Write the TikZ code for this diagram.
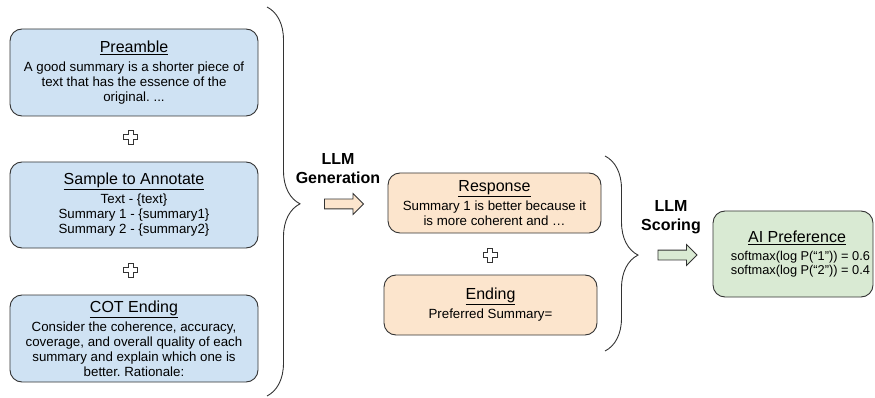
\documentclass[tikz,border=0pt]{standalone}
\usepackage{fontspec}
\setmainfont{Liberation Sans}
\usetikzlibrary{shapes.arrows,decorations.pathreplacing}
\frenchspacing

\definecolor{boxblue}{HTML}{CFE2F3}
\definecolor{boxorange}{HTML}{FCE5CD}
\definecolor{boxgreen}{HTML}{D9EAD3}
\definecolor{edgegray}{HTML}{333333}

\newcommand{\boxtitle}[1]{{\fontsize{16}{19}\selectfont\underline{#1}}\\[4pt]}

\tikzset{
	plussign/.pic={
		\draw[edgegray, line width=0.8pt, fill=white]
			(-2.5,-7) -- (2.5,-7) -- (2.5,-2.5) -- (7,-2.5) -- (7,2.5) -- (2.5,2.5)
			-- (2.5,7) -- (-2.5,7) -- (-2.5,2.5) -- (-7,2.5) -- (-7,-2.5) -- (-2.5,-2.5) -- cycle;
	}
}

\begin{document}
\begin{tikzpicture}[x=1pt, y=-1pt,
	prompt/.style={
		rectangle,
		draw=edgegray,
		line width=0.9pt,
		align=center,
		rounded corners=12pt,
		fill=boxblue,
		inner sep=0pt,
		minimum width=248pt,
		minimum height=87pt,
		font=\fontsize{13.3}{15}\selectfont
	},
	reply/.style={
		prompt,
		fill=boxorange,
		minimum width=213pt,
		minimum height=60pt
	},
	result/.style={
		prompt,
		fill=boxgreen,
		minimum width=160pt,
		minimum height=86pt,
		font=\fontsize{12.8}{14}\selectfont
	},
	stagelabel/.style={
		align=center,
		inner sep=0pt,
		font=\bfseries\fontsize{16}{19}\selectfont
	},
	blockarrow/.style={
		single arrow,
		draw=edgegray,
		line width=0.8pt,
		inner xsep=0pt,
		inner ysep=4.5pt,
		minimum width=20pt,
		minimum height=39pt,
		single arrow head extend=5.5pt,
		single arrow head indent=0pt
	},
	bracestyle/.style={
		draw=edgegray,
		line width=0.9pt,
		decorate
	},
]

\useasboundingbox (0,0) rectangle (875,398);

%% Prompt boxes %%
\node[prompt] (preamble) at (134,72.5) {\boxtitle{Preamble}
	A good summary is a shorter piece of\\
	text that has the essence of the\\
	original. ...};

\node[prompt, minimum height=86pt] (sample) at (134,205) {\boxtitle{Sample to Annotate}
	Text - \{text\}\\
	Summary 1 - \{summary1\}\\
	Summary 2 - \{summary2\}};

\node[prompt] (cot) at (134,338.5) {\boxtitle{COT Ending}
	Consider the coherence, accuracy,\\
	coverage, and overall quality of each\\
	summary and explain which one is\\
	better. Rationale:};

\pic (plusa) at (130.5,137) {plussign};
\pic (plusb) at (130.5,270) {plussign};

%% LLM generation %%
\coordinate (gentop) at (267,7);
\coordinate (genbot) at (267,396);
\draw[bracestyle, decoration={brace, amplitude=33pt, aspect=0.506}] (gentop) -- (genbot);

\node[stagelabel] (genlabel) at (338,169) {LLM\\Generation};
\node[blockarrow, fill=boxorange] (genarrow) at (341.5,204) {};

%% Response boxes %%
\node[reply] (response) at (494.5,203) {\boxtitle{Response}
	Summary 1 is better because it\\
	is more coherent and …};

\pic (plusc) at (490,255) {plussign};

\node[reply] (ending) at (490.5,305) {\boxtitle{Ending}
	Preferred Summary=};

%% LLM scoring %%
\coordinate (scoretop) at (605,156);
\coordinate (scorebot) at (605,351);
\draw[bracestyle, decoration={brace, amplitude=33pt, aspect=0.508}] (scoretop) -- (scorebot);

\node[stagelabel] (scorelabel) at (671,217) {LLM\\Scoring};
\node[blockarrow, fill=boxgreen] (scorearrow) at (675,255) {};

% text sits a little right of the box centre %
\node[result] (preference) at (793,254) {\hspace*{8pt}\boxtitle{AI Preference}
	\hspace*{15pt}softmax(log P(“1”)) = 0.6\\
	\hspace*{15pt}softmax(log P(“2”)) = 0.4};

\end{tikzpicture}
\end{document}
